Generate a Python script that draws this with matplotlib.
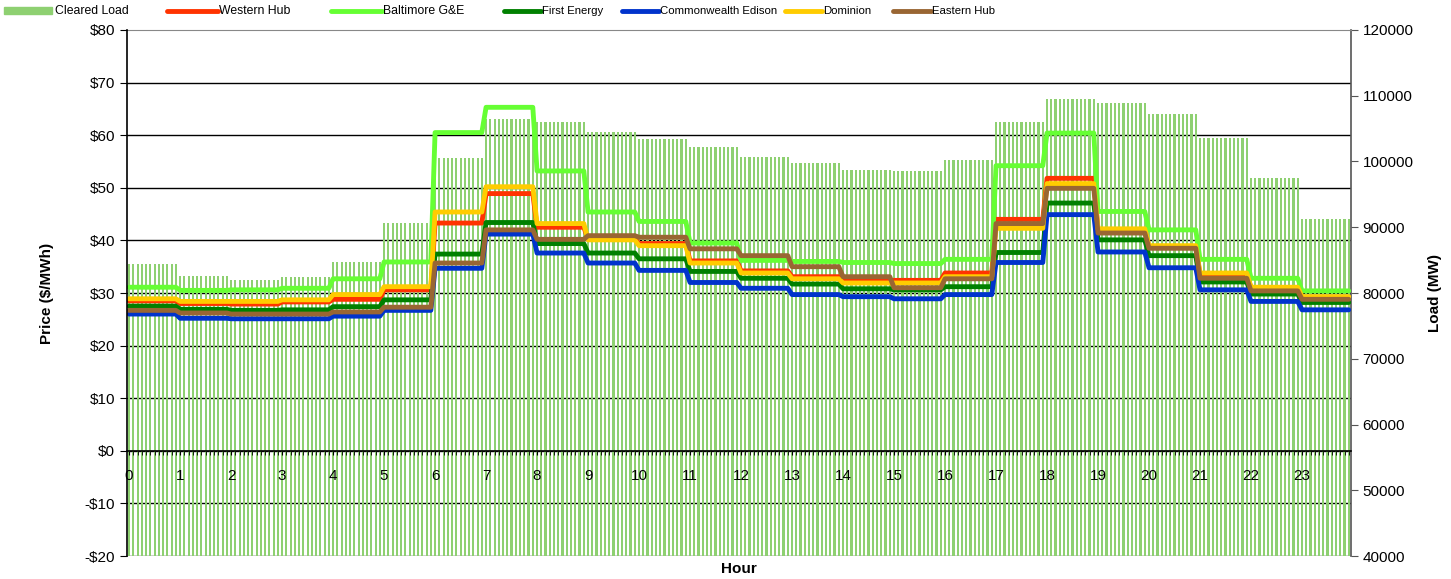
import numpy as np
import matplotlib
matplotlib.use("Agg")
import matplotlib.pyplot as plt
from matplotlib import font_manager
from matplotlib.lines import Line2D
from matplotlib.patches import Rectangle

plt.rcParams['font.family'] = ['Liberation Sans', 'DejaVu Sans']

# hourly values, each hour is shown as 12 five-minute intervals
hours = list(range(24))
steps_per_hour = 12

cleared_load = [84400, 82600, 82000, 82400, 84700, 90600, 100500, 106500,
                106000, 104500, 103400, 102200, 100700, 99800, 98700, 98550,
                100300, 105950, 109500, 108850, 107200, 103500, 97450, 91250]

western_hub = [28.5, 28.0, 27.9, 28.3, 28.8, 30.6, 43.3, 48.9, 42.5, 40.3, 39.4, 36.1,
               34.2, 33.1, 32.2, 32.4, 33.8, 44.0, 51.8, 41.8, 38.7, 33.5, 31.0, 29.2]
baltimore_ge = [31.1, 30.5, 30.6, 30.9, 32.7, 35.9, 60.5, 65.3, 53.2, 45.4, 43.6, 39.5,
                36.2, 36.0, 35.8, 35.6, 36.4, 54.2, 60.4, 45.5, 42.0, 36.4, 32.8, 30.4]
first_energy = [27.5, 26.9, 26.7, 26.8, 27.4, 28.7, 37.4, 43.4, 39.4, 37.6, 36.5, 34.1,
                32.8, 31.7, 30.8, 30.6, 31.2, 37.7, 47.1, 40.1, 37.1, 32.1, 29.8, 28.2]
comed = [26.0, 25.2, 25.1, 25.1, 25.6, 26.7, 34.7, 41.2, 37.6, 35.7, 34.3, 32.0,
         30.9, 29.7, 29.3, 28.9, 29.7, 35.8, 44.9, 37.8, 34.8, 30.6, 28.4, 26.8]
dominion = [28.9, 28.4, 28.4, 28.7, 29.7, 31.2, 45.4, 50.2, 43.2, 40.1, 39.0, 35.7,
            33.8, 32.7, 31.9, 31.9, 33.1, 42.3, 50.8, 42.2, 39.0, 33.8, 31.1, 29.3]
eastern_hub = [26.7, 26.2, 26.0, 26.0, 26.4, 27.3, 35.7, 42.0, 40.2, 40.9, 40.6, 38.4,
               37.1, 35.0, 33.1, 31.0, 32.7, 43.2, 49.9, 41.4, 38.5, 32.8, 30.4, 28.8]

series = [
    ("Western Hub", western_hub, "#FF3300"),
    ("Baltimore G&E", baltimore_ge, "#66FF33"),
    ("First Energy", first_energy, "#008000"),
    ("Commonwealth Edison", comed, "#0033CC"),
    ("Dominion", dominion, "#FFCC00"),
    ("Eastern Hub", eastern_hub, "#996633"),
]
bar_color = "#8ED071"

P_MIN, P_MAX = -20, 80
L_MIN, L_MAX = 40000, 120000

def price_to_load(p):
    return L_MIN + (p - P_MIN) * (L_MAX - L_MIN) / (P_MAX - P_MIN)

n = len(hours) * steps_per_hour
x = np.arange(n)

W, H = 1451, 579
fig = plt.figure(figsize=(W / 100, H / 100), dpi=100)
ax = fig.add_axes([0.0875, 0.0397, 0.8435, 0.9085])
ax_load = ax.twinx()
ax.set_zorder(ax_load.get_zorder() + 1)
ax.patch.set_visible(False)

# gridlines sit behind the load bars
for p in range(P_MIN, P_MAX, 10):
    ax_load.axhline(price_to_load(p), color="black", lw=1, zorder=0)

ax_load.bar(x, np.repeat(cleared_load, steps_per_hour), width=0.5,
            color=bar_color, zorder=1)

for name, vals, col in series:
    ax.plot(x, np.repeat(vals, steps_per_hour), color=col, lw=3.5,
            solid_capstyle="round")

ax.set_xlim(-0.5, n - 0.5)
ax.set_ylim(P_MIN, P_MAX)
ax_load.set_ylim(L_MIN, L_MAX)

ax.set_yticks(range(P_MIN, P_MAX + 1, 10))
ax.set_yticklabels([f"-${-v}" if v < 0 else f"${v}" for v in range(P_MIN, P_MAX + 1, 10)])
ax_load.set_yticks(range(L_MIN, L_MAX + 1, 10000))
ax_load.set_yticklabels([str(v) for v in range(L_MIN, L_MAX + 1, 10000)])

ax.set_xticks(x[::steps_per_hour])
ax.set_xticklabels([str(h) for h in hours])
ax.set_xticks(x, minor=True)

ax.spines["bottom"].set_position(("data", 0))
ax.spines["bottom"].set_linewidth(1.2)
ax.spines["top"].set_visible(False)
ax.spines["right"].set_visible(False)
ax.spines["left"].set_linewidth(1.2)
ax_load.spines["left"].set_visible(False)
ax_load.spines["bottom"].set_visible(False)
ax_load.spines["top"].set_color("#888888")
ax_load.spines["right"].set_color("#555555")
ax_load.spines["right"].set_linewidth(1.2)

ax.tick_params(axis="x", which="both", direction="out", length=3, pad=10, labelsize=11)
ax.tick_params(axis="y", length=5, labelsize=11)
ax_load.tick_params(axis="y", length=5, labelsize=11, color="#555555")

ax.set_ylabel("Price ($/MWh)", fontsize=11, fontweight="bold", labelpad=22)
ax_load.set_ylabel("Load (MW)", fontsize=11, fontweight="bold", labelpad=10)
ax.set_xlabel("Hour", fontsize=11, fontweight="bold")
ax.xaxis.set_label_coords(0.5, -0.012)

# legend row along the top, laid out by hand (pixel x of each key)
names = {f.name for f in font_manager.fontManager.ttflist}
narrow = "Liberation Sans Narrow" if "Liberation Sans Narrow" in names else None

key_x = [(4, 52), (167, 218), (331, 382), (504, 541), (622, 659), (785, 822), (893, 931)]
legend_y = 1 - 10.5 / H
fig.add_artist(Rectangle((key_x[0][0] / W, 1 - 14 / H), (key_x[0][1] - key_x[0][0]) / W,
                         7 / H, transform=fig.transFigure, color=bar_color))
fig.text((key_x[0][1] + 3) / W, legend_y, "Cleared Load", fontsize=8.8, va="center")
for i, (name, vals, col) in enumerate(series, start=1):
    x0, x1 = key_x[i]
    fig.add_artist(Line2D([x0 / W, x1 / W], [legend_y, legend_y], transform=fig.transFigure,
                          color=col, lw=3.5, solid_capstyle="round"))
    if i <= 2:
        fig.text((x1 + 1) / W, legend_y, name, fontsize=8.8, va="center")
    elif narrow:
        fig.text((x1 + 1) / W, legend_y, name, fontsize=8.8, va="center", family=narrow)
    else:
        fig.text((x1 + 1) / W, legend_y, name, fontsize=8.2, va="center")

fig.savefig("out.png", dpi=100)
